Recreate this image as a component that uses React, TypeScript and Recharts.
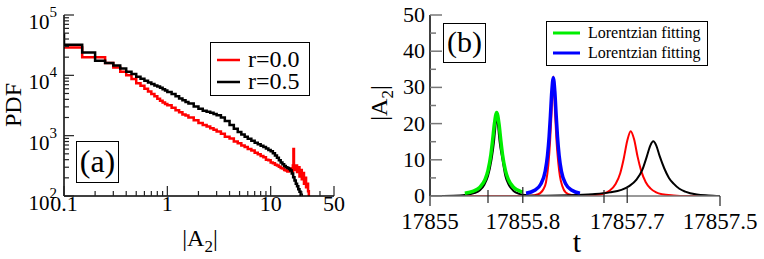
import React from 'react';
import { LineChart, Line, XAxis, YAxis, Legend } from 'recharts';

const serif = '"Liberation Serif", "Times New Roman", serif';

// ---- panel (a): PDF of |A2| (histogram steps, left bin edges) ----
const ampR00 = [0.05, 0.1, 0.15, 0.2, 0.25, 0.3, 0.35, 0.4, 0.45, 0.5, 0.55, 0.6, 0.65, 0.7, 0.75, 0.8, 0.85, 0.9, 0.95, 1.0,
  1.1, 1.2, 1.3, 1.4, 1.5, 1.6, 1.8, 2.0, 2.2, 2.4, 2.6, 2.8, 3.0, 3.3, 3.6, 4.0, 4.4, 4.8, 5.2, 5.6, 6.0, 6.5, 7.0, 7.5,
  8.0, 8.5, 9.0, 9.5, 10, 10.5, 11, 11.5, 12, 12.5, 13, 13.5, 14, 14.5, 15, 15.5, 16, 16.4, 16.6, 16.8, 17, 17.5, 18,
  18.5, 19, 19.5, 20, 20.5, 21, 21.5, 22, 22.5, 23, 23.4];
const pdfR00 = [29000, 29000, 20000, 20000, 16000, 13500, 11500, 10000, 8700, 7400, 6700, 6000, 5400, 4900, 4500, 4100, 3800, 3550, 3350, 3200,
  2900, 2650, 2450, 2250, 2150, 2000, 1800, 1620, 1500, 1420, 1330, 1250, 1170, 1080, 960, 900, 800, 750, 690, 650, 600, 570, 520, 490,
  460, 440, 400, 390, 360, 350, 330, 320, 305, 290, 285, 270, 265, 255, 270, 285, 255, 320, 600, 320, 270, 320, 250,
  300, 210, 270, 190, 240, 160, 200, 140, 160, 120, 90];

const ampR05 = [0.05, 0.1, 0.15, 0.2, 0.25, 0.3, 0.35, 0.4, 0.45, 0.5, 0.55, 0.6, 0.65, 0.7, 0.75, 0.8, 0.85, 0.9, 0.95, 1.0,
  1.1, 1.2, 1.3, 1.4, 1.5, 1.6, 1.8, 2.0, 2.2, 2.4, 2.6, 2.8, 3.0, 3.3, 3.6, 4.0, 4.4, 4.8, 5.2, 5.6, 6.0, 6.5, 7.0, 7.5,
  8.0, 8.5, 9.0, 9.5, 10, 10.5, 11, 11.5, 12, 12.5, 13, 13.5, 14, 14.5, 15, 15.5, 16, 16.5, 17, 17.5, 18, 18.5, 19, 19.5, 20];
const pdfR05 = [48000, 32000, 24000, 17500, 16000, 14500, 13000, 11500, 10500, 9500, 8800, 8100, 7600, 7200, 6800, 6500, 6200, 5900, 5600, 5300,
  4900, 4500, 4150, 3850, 3600, 3400, 3050, 2800, 2600, 2480, 2400, 2280, 2180, 2000, 1750, 1500, 1300, 1150, 1050, 960, 890, 820, 760, 720,
  680, 650, 610, 580, 550, 510, 470, 430, 390, 360, 335, 315, 300, 290, 280, 265, 235, 205, 180, 160, 145, 130, 118, 105, 90];

const ampTicks = [0.1, 0.2, 0.3, 0.4, 0.5, 0.6, 0.7, 0.8, 0.9, 1, 2, 3, 4, 5, 6, 7, 8, 9, 10, 20, 30, 41];
const ampTickLabels = new Map<number, string>([[0.1, '0.1'], [1, '1'], [10, '10'], [41, '50']]);
const pdfTicks = [100, 200, 300, 400, 500, 600, 700, 800, 900, 1000, 2000, 3000, 4000, 5000, 6000, 7000, 8000, 9000,
  10000, 20000, 30000, 40000, 50000, 60000, 70000, 80000, 90000, 100000];
const pdfExponents = new Map<number, string>([[100, '2'], [1000, '3'], [10000, '4'], [100000, '5']]);

// ---- panel (b): |A2| versus t ----
const tRed = [17855, 17855.5, 17855.85, 17855.9, 17855.95, 17855.98, 17856.0, 17856.02, 17856.035, 17856.048, 17856.063, 17856.078,
  17856.09, 17856.105, 17856.12, 17856.14, 17856.17, 17856.22, 17856.3, 17856.4, 17856.5, 17856.55, 17856.6, 17856.64, 17856.67,
  17856.7, 17856.73, 17856.76, 17856.79, 17856.82, 17856.86, 17856.9, 17856.95, 17857.0, 17857.1, 17857.2, 17857.5];
const aRed = [0, 0, 0, 0.2, 0.8, 2.0, 3.8, 8.5, 15, 23, 33, 23,
  15.5, 9.5, 5.5, 2.8, 1.0, 0.3, 0.1, 0.2, 0.7, 1.5, 3.3, 6.3, 10.3,
  15.2, 17.9, 15.6, 10.8, 7, 3.8, 2.1, 1.0, 0.5, 0.15, 0, 0];

const tBlack = [17855, 17855.2, 17855.3, 17855.38, 17855.43, 17855.47, 17855.5, 17855.53, 17855.55, 17855.565, 17855.575, 17855.585,
  17855.6, 17855.625, 17855.65, 17855.68, 17855.72, 17855.77, 17855.82, 17855.9, 17856.0, 17856.2, 17856.4, 17856.55, 17856.65,
  17856.72, 17856.78, 17856.83, 17856.87, 17856.9, 17856.925, 17856.95, 17856.98, 17857.02, 17857.06, 17857.1, 17857.15, 17857.2,
  17857.3, 17857.4, 17857.5];
const aBlack = [0, 0.1, 0.3, 0.8, 1.6, 3.2, 5.5, 10, 14.5, 19.5, 23.1, 20,
  15, 10, 5.5, 3.0, 1.4, 0.6, 0.25, 0.1, 0.1, 0.2, 0.5, 1.0, 1.7,
  2.8, 4.5, 7.2, 11.0, 14.0, 15.1, 14.0, 11.0, 7.6, 5.0, 3.4, 2.0, 1.2,
  0.4, 0.15, 0];

const tGreenFit = [17855.3, 17855.375, 17855.425, 17855.475, 17855.5, 17855.525, 17855.54, 17855.555, 17855.575, 17855.595,
  17855.61, 17855.625, 17855.65, 17855.675, 17855.725, 17855.775, 17855.8];
const aGreenFit = [0.75, 1.35, 2.3, 4.6, 7.1, 11.5, 15.5, 19.9, 23.1, 19.9, 15.5, 11.5, 7.1, 4.6, 2.3, 1.35, 1.1];

const tBlueFit = [17855.828, 17855.903, 17855.953, 17855.993, 17856.013, 17856.027, 17856.038, 17856.05, 17856.063, 17856.076,
  17856.088, 17856.099, 17856.113, 17856.133, 17856.173, 17856.223, 17856.293];
const aBlueFit = [0.75, 1.6, 3.2, 6.8, 11.2, 16.4, 22.1, 28.9, 32.7, 28.9, 22.1, 16.4, 11.2, 6.8, 3.2, 1.6, 0.8];

const tTicks = [17855, 17855.5, 17855.8, 17856.5, 17856.7, 17857.5];
const tTickLabels = new Map<number, string>([[17855, '17855'], [17855.8, '17855.8'], [17856.7, '17857.7'], [17857.5, '17857.5']]);
const aTicks = [0, 5, 10, 15, 20, 25, 30, 35, 40, 45, 50];
const aTickLabels = new Map<number, string>([[0, '0'], [10, '10'], [20, '20'], [30, '30'], [40, '40'], [50, '50']]);

const pdfR00Data = ampR00.map((x, i) => ({ x, y: pdfR00[i] }));
const pdfR05Data = ampR05.map((x, i) => ({ x, y: pdfR05[i] }));
const redData = tRed.map((t, i) => ({ t, a: aRed[i] }));
const blackData = tBlack.map((t, i) => ({ t, a: aBlack[i] }));
const greenData = tGreenFit.map((t, i) => ({ t, a: aGreenFit[i] }));
const blueData = tBlueFit.map((t, i) => ({ t, a: aBlueFit[i] }));

// ---- ticks ----
const AmpTick = ({ x, y, payload, side }: any) => {
  const label = ampTickLabels.get(payload.value);
  const len = label ? 10 : 5;
  const dir = side === 'top' ? 1 : -1;
  return (
    <g>
      <line x1={x} y1={y} x2={x} y2={y + dir * len} stroke="#222" strokeWidth={1.2} />
      {side === 'bottom' && label && (
        <text x={x} y={y + 15} textAnchor="middle" fontSize={22} fontFamily={serif} fill="#000">{label}</text>
      )}
    </g>
  );
};

const PdfTick = ({ x, y, payload, side }: any) => {
  const exp = pdfExponents.get(payload.value);
  const len = exp ? 10 : 5;
  const dir = side === 'left' ? 1 : -1;
  return (
    <g>
      <line x1={x} y1={y} x2={x + dir * len} y2={y} stroke="#222" strokeWidth={1.2} />
      {side === 'left' && exp && (
        <text x={x - 7} y={y + 14} textAnchor="end" fontSize={21} fontFamily={serif} fill="#000">
          10<tspan dy={-12} fontSize={15}>{exp}</tspan>
        </text>
      )}
    </g>
  );
};

const TimeTick = ({ x, y, payload }: any) => {
  const v = payload.value;
  const label = tTickLabels.get(v);
  const edge = v === tTicks[0] || v === tTicks[tTicks.length - 1];
  const up = edge ? 0 : label ? 9 : 6;
  const down = edge ? 10 : 7;
  return (
    <g>
      <line x1={x} y1={y - up} x2={x} y2={y + down} stroke="#222" strokeWidth={1.2} />
      {label && (
        <text x={x} y={y + 33} textAnchor="middle" fontSize={23} fontFamily={serif} fill="#000">{label}</text>
      )}
    </g>
  );
};

const AmpYTick = ({ x, y, payload, side }: any) => {
  const label = aTickLabels.get(payload.value);
  const len = label ? 12 : 6;
  const dir = side === 'left' ? 1 : -1;
  return (
    <g>
      <line x1={x} y1={y} x2={x + dir * len} y2={y} stroke="#777" strokeWidth={1.5} />
      {side === 'left' && label && (
        <text x={x - 5} y={y + 7} textAnchor="end" fontSize={22} fontFamily={serif} fill="#000">{label}</text>
      )}
    </g>
  );
};

// ---- axis titles ----
const PdfTitle = () => (
  <text x={21} y={105} transform="rotate(-90 21 105)" textAnchor="middle" fontSize={24} fontFamily={serif} fill="#000">PDF</text>
);
const AmpTitleA = () => (
  <text x={200} y={246} textAnchor="middle" fontSize={24} fontFamily={serif} fill="#000">
    |A<tspan dy={6} fontSize={17}>2</tspan><tspan dy={-6}>|</tspan>
  </text>
);
const AmpTitleB = () => (
  <text x={47} y={103} transform="rotate(-90 47 103)" textAnchor="middle" fontSize={24} fontFamily={serif} fill="#000">
    |A<tspan dy={6} fontSize={17}>2</tspan><tspan dy={-6}>|</tspan>
  </text>
);
const TimeTitle = () => (
  <text x={237} y={252} textAnchor="middle" fontSize={30} fontFamily={serif} fill="#000">t</text>
);

// ---- legends ----
const LegendBox = ({ payload, w, h, fontSize, firstRow, rowGap, lineLen, strokeW }: any) => {
  const items = (payload || []).filter((p: any) => p.type !== 'none' && p.legendType !== 'none');
  return (
    <svg width={w} height={h} style={{ display: 'block' }}>
      <rect x={0.5} y={0.5} width={w - 1} height={h - 1} fill="#fff" stroke="#000" strokeWidth={1} />
      {items.map((p: any, i: number) => {
        const cy = firstRow + i * rowGap;
        return (
          <g key={i}>
            <line x1={7} x2={7 + lineLen} y1={cy} y2={cy} stroke={p.color} strokeWidth={strokeW} />
            <text x={7 + lineLen + 8} y={cy + fontSize * 0.3} fontSize={fontSize} fontFamily={serif} fill="#000">{p.value}</text>
          </g>
        );
      })}
    </svg>
  );
};

const PanelTag = ({ left, top, w, h, text, fontSize }: any) => (
  <div style={{
    position: 'absolute', left, top, width: w, height: h, boxSizing: 'border-box', border: '1px solid #000',
    background: '#fff', fontFamily: serif, fontSize, lineHeight: `${h - 4}px`, textAlign: 'center',
  }}>{text}</div>
);

export default function App() {
  return (
    <div style={{ position: 'absolute', left: 0, top: 0, width: 764, height: 259, background: '#fff', fontFamily: serif }}>
      <div style={{ position: 'absolute', left: 0, top: 0 }}>
        <LineChart width={364} height={259} margin={{ top: 15, right: 30, bottom: 0, left: 0 }}>
          <XAxis dataKey="x" type="number" scale="log" domain={[0.1, 41]} allowDataOverflow ticks={ampTicks} interval={0}
            height={63} tickSize={0} tickMargin={0} tickLine={false} axisLine={{ stroke: '#000', strokeWidth: 1.5 }}
            tick={(p: any) => <AmpTick {...p} side="bottom" />} label={<AmpTitleA />} />
          <XAxis xAxisId="top" orientation="top" type="number" scale="log" domain={[0.1, 41]} allowDataOverflow ticks={ampTicks}
            interval={0} height={0} tickSize={0} tickMargin={0} tickLine={false} axisLine={{ stroke: '#000', strokeWidth: 1.5 }}
            tick={(p: any) => <AmpTick {...p} side="top" />} />
          <YAxis type="number" scale="log" domain={[100, 100000]} allowDataOverflow ticks={pdfTicks} interval={0}
            width={64} tickSize={0} tickMargin={0} tickLine={false} axisLine={{ stroke: '#000', strokeWidth: 1.5 }}
            tick={(p: any) => <PdfTick {...p} side="left" />} label={<PdfTitle />} />
          <YAxis yAxisId="right" orientation="right" type="number" scale="log" domain={[100, 100000]} allowDataOverflow
            ticks={pdfTicks} interval={0} width={0} tickSize={0} tickMargin={0} tickLine={false}
            axisLine={{ stroke: '#000', strokeWidth: 1.5 }} tick={(p: any) => <PdfTick {...p} side="right" />} />
          <Line data={pdfR00Data} dataKey="y" name="r=0.0" type="stepAfter" stroke="#ff0000" strokeWidth={2.5}
            dot={false} isAnimationActive={false} />
          <Line data={pdfR05Data} dataKey="y" name="r=0.5" type="stepAfter" stroke="#000000" strokeWidth={2.5}
            dot={false} isAnimationActive={false} />
          <Legend layout="horizontal" verticalAlign="middle" align="center"
            wrapperStyle={{ left: 210, top: 42, width: 100, height: 54 }}
            content={(props: any) => <LegendBox payload={props.payload} w={100} h={54} fontSize={24} firstRow={18} rowGap={22} lineLen={23} strokeW={2.5} />} />
        </LineChart>
        <PanelTag left={76} top={141} w={43} h={42} text="(a)" fontSize={32} />
      </div>

      <div style={{ position: 'absolute', left: 340, top: 0 }}>
        <LineChart width={424} height={259} margin={{ top: 15, right: 44, bottom: 0, left: 0 }}>
          <XAxis dataKey="t" type="number" domain={[17855, 17857.5]} allowDataOverflow ticks={tTicks} interval={0}
            height={63} tickSize={0} tickMargin={0} tickLine={false} axisLine={{ stroke: '#777', strokeWidth: 1.5 }}
            tick={(p: any) => <TimeTick {...p} />} label={<TimeTitle />} />
          <XAxis xAxisId="top" orientation="top" type="number" domain={[17855, 17857.5]} allowDataOverflow height={0}
            tick={false} tickLine={false} axisLine={{ stroke: '#000', strokeWidth: 1.5 }} />
          <YAxis type="number" domain={[0, 50]} allowDataOverflow ticks={aTicks} interval={0} width={90} tickSize={0}
            tickMargin={0} tickLine={false} axisLine={{ stroke: '#000', strokeWidth: 1.5 }}
            tick={(p: any) => <AmpYTick {...p} side="left" />} label={<AmpTitleB />} />
          <YAxis yAxisId="right" orientation="right" type="number" domain={[0, 50]} allowDataOverflow ticks={aTicks}
            interval={0} width={0} tickSize={0} tickMargin={0} tickLine={false} axisLine={{ stroke: '#000', strokeWidth: 1.5 }}
            tick={(p: any) => <AmpYTick {...p} side="right" />} />
          <Line data={redData} dataKey="a" name="data r=0.0" type="monotone" stroke="#ff0000" strokeWidth={2} dot={false}
            legendType="none" isAnimationActive={false} />
          <Line data={blackData} dataKey="a" name="data r=0.5" type="monotone" stroke="#000000" strokeWidth={2} dot={false}
            legendType="none" isAnimationActive={false} />
          <Line data={greenData} dataKey="a" name="Lorentzian fitting" type="monotone" stroke="#00ee00" strokeWidth={3.5}
            dot={false} isAnimationActive={false} />
          <Line data={blueData} dataKey="a" name="Lorentzian fitting" type="monotone" stroke="#0000ff" strokeWidth={3.5}
            dot={false} isAnimationActive={false} />
          <Legend layout="horizontal" verticalAlign="middle" align="center"
            wrapperStyle={{ left: 206, top: 21, width: 162, height: 45 }}
            content={(props: any) => <LegendBox payload={props.payload} w={162} h={45} fontSize={16} firstRow={12} rowGap={20} lineLen={27} strokeW={3} />} />
        </LineChart>
        <PanelTag left={103} top={23} w={43} h={40} text="(b)" fontSize={30} />
      </div>
    </div>
  );
}
